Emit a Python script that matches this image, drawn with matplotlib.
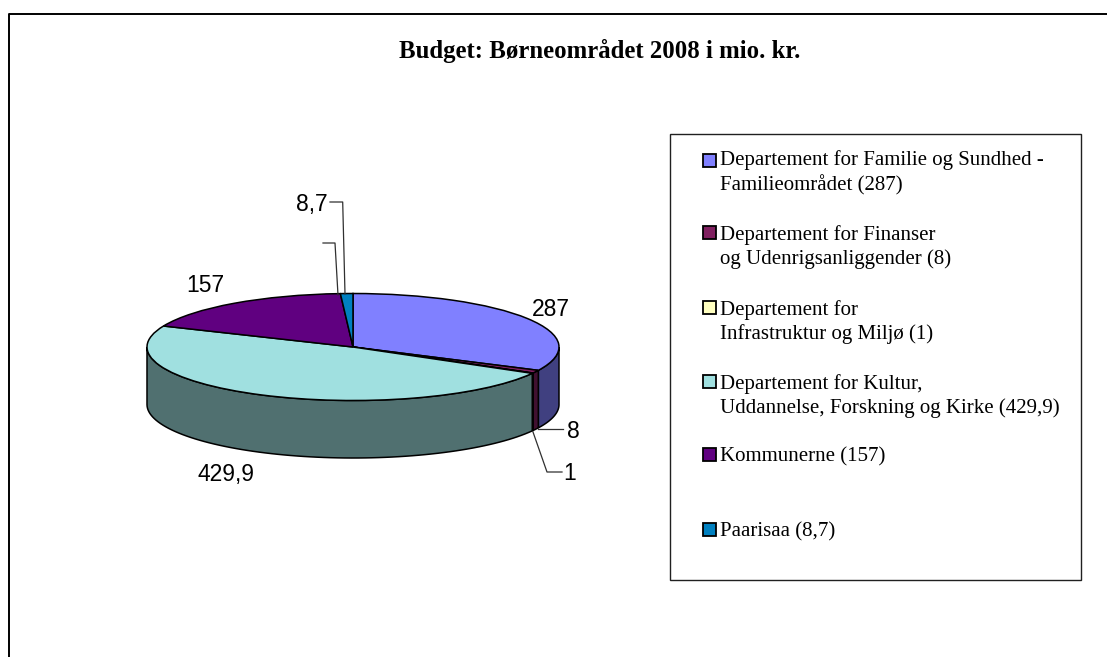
import numpy as np
import matplotlib
matplotlib.use('Agg')
from matplotlib import pyplot as plt
from matplotlib.patches import Rectangle

title = 'Budget: Børneområdet 2008 i mio. kr.'
values = [287, 8, 1, 429.9, 157, 8.7]
legend_labels = [
    'Departement for Familie og Sundhed -\nFamilieområdet (287)',
    'Departement for Finanser\nog Udenrigsanliggender (8)',
    'Departement for\nInfrastruktur og Miljø (1)',
    'Departement for Kultur,\nUddannelse, Forskning og Kirke (429,9)',
    'Kommunerne (157)',
    'Paarisaa (8,7)',
]
top_colors = ['#8080ff', '#802060', '#ffffc0', '#a0e0e0', '#600080', '#0080c0']
side_colors = ['#404080', '#401030', '#808060', '#507070', '#300040', '#004060']

W, H = 1107, 657
CX, CY, RX, RY, DEPTH = 353, 347, 206, 53.5, 57.5

fig = plt.figure(figsize=(W / 100, H / 100), dpi=100, facecolor='white')

# pie axes: one data unit is RX px across and RY px up, that gives the tilt
ax = fig.add_axes([0, 0, 1, 1])
wedges, _ = ax.pie(values, startangle=90, counterclock=False, colors=top_colors,
                   wedgeprops=dict(edgecolor='black', linewidth=1.1))
ax.set_aspect('auto')
ax.set_xlim(-CX / RX, (W - CX) / RX)
ax.set_ylim((CY - H) / RY, CY / RY)
for w in wedges:
    w.set_zorder(3)

# side wall, only the front half shows
for w, c in zip(wedges, side_colors):
    a, b = max(w.theta1, -180), min(w.theta2, 0)
    if a >= b:
        continue
    t = np.radians(np.linspace(a, b, 80))
    xs = np.r_[np.cos(t), np.cos(t)[::-1]]
    ys = np.r_[np.sin(t), np.sin(t)[::-1] - DEPTH / RY]
    ax.fill(xs, ys, facecolor=c, edgecolor='black', linewidth=1.1, zorder=2)

# overlay in pixel coordinates for texts, leader lines and boxes
ov = fig.add_axes([0, 0, 1, 1], facecolor='none')
ov.set_xlim(0, W)
ov.set_ylim(H, 0)
ov.axis('off')

ov.plot([8.5, 8.5, W], [H, 13.5, 13.5], color='black', lw=1.4, clip_on=False)
ov.text(600, 51, title, family='Liberation Serif', weight='bold', fontsize=17.8,
        ha='center', va='center')

# value labels
label_pos = [(551, 310), (573, 431), (570, 473), (226, 475), (205, 285), (312, 204)]
for v, (x, y) in zip(values, label_pos):
    ov.text(x, y, str(v).replace('.', ','), family='Liberation Sans', fontsize=16.5,
            ha='center', va='center', color='black')

# leader lines
leaders = [
    ([330, 342.7, 345], [202, 202, 294]),
    ([323, 335, 338], [243, 243, 295]),
    ([538, 563], [429, 429]),
    ([533, 547, 562], [432, 472, 472]),
]
for xs, ys in leaders:
    ov.plot(xs, ys, color='#303030', lw=0.9)

# legend
ov.add_patch(Rectangle((670, 133.5), 411, 446, facecolor='none', edgecolor='#202020', lw=1))
entry_y = [160, 232.5, 307.5, 381, 454.5, 529.5]
text_y = [173, 247, 322, 396, 457, 532]
for lab, c, sy, ty in zip(legend_labels, top_colors, entry_y, text_y):
    ov.add_patch(Rectangle((702.5, sy - 6.5), 13, 13, facecolor=c, edgecolor='black', lw=1.3))
    ov.text(720, ty, lab, family='Liberation Serif', fontsize=15, ha='left', va='center',
            linespacing=1.3)

fig.savefig('out.png', dpi=100)
